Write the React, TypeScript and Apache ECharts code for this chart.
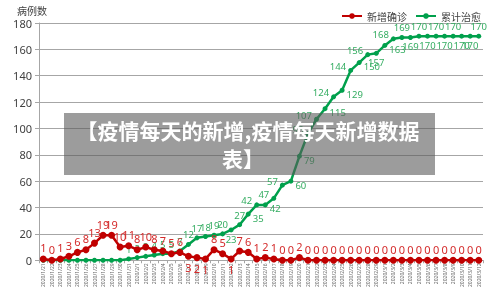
import React, { useEffect, useRef } from 'react';
import * as echarts from 'echarts';

const categories = [
  '2020/1/21', '2020/1/22', '2020/1/23', '2020/1/24', '2020/1/25', '2020/1/26', '2020/1/27', '2020/1/28', '2020/1/29', '2020/1/30', '2020/1/31',
  '2020/2/1', '2020/2/2', '2020/2/3', '2020/2/4', '2020/2/5', '2020/2/6', '2020/2/7', '2020/2/8', '2020/2/9', '2020/2/10',
  '2020/2/11', '2020/2/12', '2020/2/13', '2020/2/14', '2020/2/15', '2020/2/16', '2020/2/17', '2020/2/18', '2020/2/19', '2020/2/20',
  '2020/2/21', '2020/2/22', '2020/2/23', '2020/2/24', '2020/2/25', '2020/2/26', '2020/2/27', '2020/2/28', '2020/2/29',
  '2020/3/1', '2020/3/2', '2020/3/3', '2020/3/4', '2020/3/5', '2020/3/6', '2020/3/7', '2020/3/8', '2020/3/9', '2020/3/10', '2020/3/11', '2020/3/12',
];

const newConfirmed = [
  1, 0, 1, 3, 6, 8, 13, 19, 19, 10,
  11, 8, 10, 8, 7, 5, 6, 3, 2, 1,
  8, 5, 1, 7, 6, 1, 2, 1, 0, 0,
  2, 0, 0, 0, 0, 0, 0, 0, 0, 0,
  0, 0, 0, 0, 0, 0, 0, 0, 0, 0,
  0, 0,
];

const cumulativeCured = [
  0, 0, 0, 0, 0, 0, 0, 0, 0, 0,
  1, 2, 3, 4, 5, 5, 7, 12, 17, 18,
  19, 20, 23, 27, 35, 42, 42, 47, 57, 60,
  79, 96, 107, 115, 124, 129, 144, 150, 156, 157,
  163, 168, 169, 169, 170, 170, 170, 170, 170, 170,
  170, 170,
];

const seriesNames = ['新增确诊', '累计治愈'];
const yTicks = { min: 0, max: 180, interval: 20 };
const yAxisTitle = '病例数';
const overlayLine1 = '【疫情每天的新增,疫情每天新增数据';
const overlayLine2 = '表】';

// label placement (style only)
const redBelow = new Set([17, 18, 19, 22]);
const greenPlacement: Record<number, string> = {
  22: 'bottom', 24: 'right', 25: 'left', 26: 'right', 27: 'left', 28: 'left', 29: 'right',
  30: 'right', 31: 'left', 32: 'left', 33: 'right', 34: 'left', 35: 'right', 36: 'left',
  37: 'right', 38: 'left', 39: 'bottom', 40: 'right', 41: 'left', 42: 'top', 43: 'bottom',
  44: 'top', 45: 'bottom', 46: 'top', 47: 'bottom', 48: 'top', 49: 'bottom', 50: 'bottom', 51: 'top',
};

const RED = '#c00000';
const RED_LABEL = '#d42a2a';
const GREEN = '#00a04c';
const GREEN_LABEL = '#35ad62';
const NUM_FONT = '"Noto Sans", sans-serif';
const CJK_FONT = '"Noto Sans CJK SC", sans-serif';

export default function App() {
  const ref = useRef<HTMLDivElement>(null);
  useEffect(() => {
    if (!ref.current) return;
    const chart = echarts.init(ref.current, null, { renderer: 'svg' });
    const redData = newConfirmed.map((v, i) => ({
      value: v,
      label: { position: redBelow.has(i) ? 'bottom' : 'top' },
    }));
    const greenData = cumulativeCured.map((v, i) => {
      const pos = greenPlacement[i] ?? 'top';
      const offset = pos === 'left' ? [0, -4] : pos === 'right' ? [0, 4] : [0, 0];
      return { value: v, label: { show: i >= 10, position: pos, offset } };
    });
    chart.setOption({
      animation: false,
      grid: { left: 39, right: 17, top: 23, bottom: 27 },
      legend: {
        data: seriesNames,
        right: 14,
        top: 6,
        itemWidth: 20,
        itemHeight: 7,
        itemGap: 8,
        textStyle: { fontSize: 10, color: '#404040', fontFamily: CJK_FONT },
      },
      xAxis: {
        type: 'category',
        data: categories,
        boundaryGap: true,
        axisLine: { show: true, lineStyle: { color: '#a6a6a6' } },
        axisTick: { show: true, length: 3, lineStyle: { color: '#a6a6a6' } },
        axisLabel: { interval: 0, rotate: 90, fontSize: 5, color: '#666', margin: 3, fontFamily: NUM_FONT },
      },
      yAxis: {
        type: 'value',
        min: yTicks.min,
        max: yTicks.max,
        interval: yTicks.interval,
        axisLine: { show: true, lineStyle: { color: '#a6a6a6' } },
        axisTick: { show: true, length: 4, lineStyle: { color: '#a6a6a6' } },
        axisLabel: { fontSize: 11, color: '#404040', margin: 7, fontFamily: NUM_FONT },
        splitLine: { lineStyle: { color: '#a6a6a6' } },
      },
      series: [
        {
          name: seriesNames[1],
          type: 'line',
          data: greenData,
          symbol: 'circle',
          symbolSize: 5,
          lineStyle: { color: GREEN, width: 2.5 },
          itemStyle: { color: GREEN },
          label: { show: true, fontSize: 9.5, color: GREEN_LABEL, distance: 2, fontFamily: NUM_FONT },
          z: 2,
        },
        {
          name: seriesNames[0],
          type: 'line',
          data: redData,
          symbol: 'circle',
          symbolSize: 7,
          lineStyle: { color: RED, width: 2.5 },
          itemStyle: { color: RED },
          label: { show: true, fontSize: 11, color: RED_LABEL, distance: 2, fontFamily: NUM_FONT },
          z: 3,
        },
      ],
      graphic: [
        {
          type: 'text',
          x: 17,
          y: 5,
          style: { text: yAxisTitle, fontSize: 10, fill: '#404040', fontFamily: CJK_FONT },
        },
        {
          type: 'rect',
          z: 100,
          shape: { x: 64, y: 113, width: 371, height: 62 },
          style: { fill: 'rgba(90,90,90,0.6)' },
        },
        {
          type: 'text',
          z: 101,
          x: 248,
          y: 130,
          style: {
            text: overlayLine1,
            fill: '#ffffff',
            font: `bold 21px ${CJK_FONT}`,
            textAlign: 'center',
            textVerticalAlign: 'middle',
          },
        },
        {
          type: 'text',
          z: 101,
          x: 243,
          y: 158,
          style: {
            text: overlayLine2,
            fill: '#ffffff',
            font: `bold 21px ${CJK_FONT}`,
            textAlign: 'center',
            textVerticalAlign: 'middle',
          },
        },
      ],
    });
    return () => chart.dispose();
  }, []);
  return <div ref={ref} style={{ position: 'fixed', left: 0, top: 0, width: 500, height: 290 }} />;
}
